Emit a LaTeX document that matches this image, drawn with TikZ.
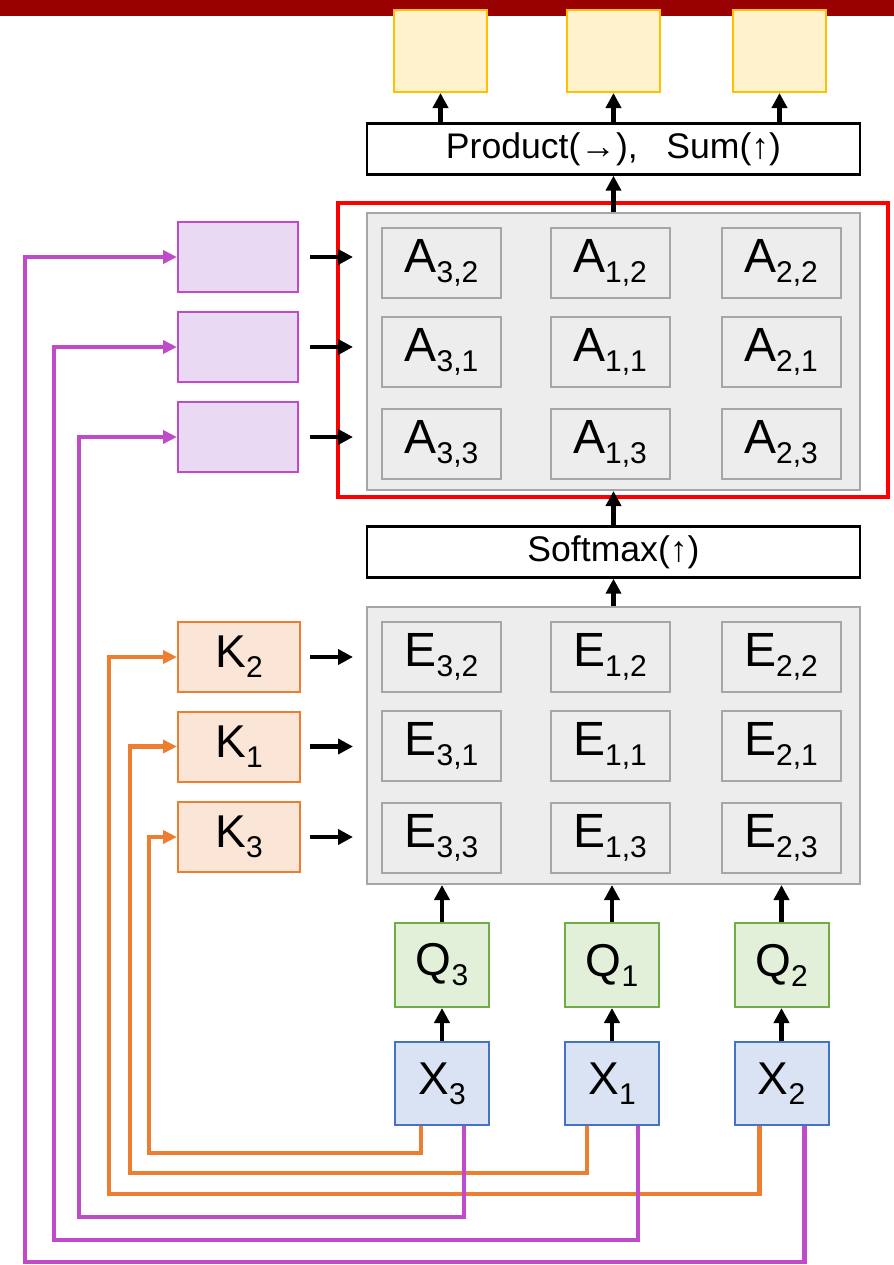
\documentclass[tikz,border=0pt]{standalone}
\usepackage{fontspec}
\setmainfont{Liberation Sans}
\usetikzlibrary{arrows.meta,positioning}
\definecolor{barred}{HTML}{990000}
\definecolor{outline}{HTML}{FFC000}
\definecolor{outfill}{HTML}{FFF2CC}
\definecolor{gridline}{HTML}{A6A6A6}
\definecolor{gridfill}{HTML}{EDEDED}
\definecolor{valline}{HTML}{BF4BC8}
\definecolor{valfill}{HTML}{EAD9F2}
\definecolor{keyline}{HTML}{ED7D31}
\definecolor{keyfill}{HTML}{FBE5D6}
\definecolor{qline}{HTML}{70AD47}
\definecolor{qfill}{HTML}{E2F0D9}
\definecolor{xline}{HTML}{4472C4}
\definecolor{xfill}{HTML}{DAE3F3}
\newcommand{\lowsub}[1]{\raisebox{-5pt}{\fontsize{15}{15}\selectfont #1}}
\tikzset{
  outbox/.style={draw=outline, fill=outfill, line width=1pt, minimum width=46.5pt, minimum height=41pt, inner sep=0pt},
  opbar/.style={draw=black, fill=white, line width=1.2pt, minimum width=246.5pt, minimum height=25.5pt, inner sep=0pt, font=\fontsize{17.8}{20}\selectfont},
  panel/.style={draw=gridline, fill=gridfill, line width=1pt, minimum width=246.5pt, minimum height=138.5pt, inner sep=0pt},
  redframe/.style={draw=red, line width=2pt, minimum width=275pt, minimum height=147pt, inner sep=0pt},
  acell/.style={draw=gridline, fill=gridfill, line width=1pt, minimum width=59.5pt, minimum height=35pt, inner sep=0pt, font=\fontsize{24}{24}\selectfont},
  valbox/.style={draw=valline, fill=valfill, line width=1pt, minimum width=60pt, minimum height=35pt, inner sep=0pt},
  keybox/.style={draw=keyline, fill=keyfill, line width=1pt, minimum width=61pt, minimum height=35pt, inner sep=0pt, font=\fontsize{23}{23}\selectfont},
  qbox/.style={draw=qline, fill=qfill, line width=1pt, minimum width=47pt, minimum height=42pt, inner sep=0pt, font=\fontsize{23}{23}\selectfont},
  xbox/.style={draw=xline, fill=xfill, line width=1pt, minimum width=47pt, minimum height=41.5pt, inner sep=0pt, font=\fontsize{23}{23}\selectfont},
  signal/.style={-{Triangle[length=7.5pt, width=7.5pt]}, line width=2.3pt, draw=black},
  kwire/.style={-{Triangle[length=7pt, width=6.5pt]}, line width=2.2pt, draw=keyline},
  vwire/.style={-{Triangle[length=7pt, width=6.5pt]}, line width=2.2pt, draw=valline}
}

\begin{document}
\begin{tikzpicture}[x=0.5pt, y=-0.5pt]
  \useasboundingbox (0,0) rectangle (894,1265);
  \fill[barred] (0,0) rectangle (894,16);

  \node[outbox] (o3) at (440.5,51) {};
  \node[outbox] (o1) at (613.5,51) {};
  \node[outbox] (o2) at (779.5,51) {};
  \node[opbar] (prod) at (613.5,149) {Product(→),\hspace{0.8em}Sum(↑)};

  \node[panel] (agrid) at (613.5,351.5) {};
  \node[redframe] (aframe) at (613,350) {};
  \node[acell] (a32) at (441.5,263) {A\lowsub{3,2}};
  \node[acell] (a12) at (610,263) {A\lowsub{1,2}};
  \node[acell] (a22) at (781,263) {A\lowsub{2,2}};
  \node[acell] (a31) at (441.5,352) {A\lowsub{3,1}};
  \node[acell] (a11) at (610,352) {A\lowsub{1,1}};
  \node[acell] (a21) at (781,352) {A\lowsub{2,1}};
  \node[acell] (a33) at (441.5,444) {A\lowsub{3,3}};
  \node[acell] (a13) at (610,444) {A\lowsub{1,3}};
  \node[acell] (a23) at (781,444) {A\lowsub{2,3}};

  \node[valbox] (v2) at (238,257) {};
  \node[valbox] (v1) at (238,347) {};
  \node[valbox] (v3) at (238,437) {};

  \node[opbar] (soft) at (613.5,552) {Softmax(↑)};

  \node[panel] (egrid) at (613.5,745.5) {};
  \node[acell] (e32) at (441.5,657) {E\lowsub{3,2}};
  \node[acell] (e12) at (610,657) {E\lowsub{1,2}};
  \node[acell] (e22) at (781,657) {E\lowsub{2,2}};
  \node[acell] (e31) at (441.5,746) {E\lowsub{3,1}};
  \node[acell] (e11) at (610,746) {E\lowsub{1,1}};
  \node[acell] (e21) at (781,746) {E\lowsub{2,1}};
  \node[acell] (e33) at (441.5,838) {E\lowsub{3,3}};
  \node[acell] (e13) at (610,838) {E\lowsub{1,3}};
  \node[acell] (e23) at (781,838) {E\lowsub{2,3}};

  \node[keybox] (k2) at (239,657) {K\lowsub{2}};
  \node[keybox] (k1) at (239,746.5) {K\lowsub{1}};
  \node[keybox] (k3) at (239,837) {K\lowsub{3}};

  \node[qbox] (q3) at (442,965) {Q\lowsub{3}};
  \node[qbox] (q1) at (612,965) {Q\lowsub{1}};
  \node[qbox] (q2) at (781.5,965) {Q\lowsub{2}};
  \node[xbox, below=16.5pt of q3] (x3) {X\lowsub{3}};
  \node[xbox, below=16.5pt of q1] (x1) {X\lowsub{1}};
  \node[xbox, below=16.5pt of q2] (x2) {X\lowsub{2}};

  \coordinate (kl3) at (149,1153);
  \coordinate (kl1) at (130,1173);
  \coordinate (kl2) at (109,1194);
  \coordinate (vl3) at (79,1217);
  \coordinate (vl1) at (54,1240);
  \coordinate (vl2) at (25,1262);

  \draw[kwire] ([xshift=-10.5pt]x3.south) |- (kl3) |- (k3.west);
  \draw[kwire] ([xshift=-12.5pt]x1.south) |- (kl1) |- (k1.west);
  \draw[kwire] ([xshift=-11pt]x2.south) |- (kl2) |- (k2.west);
  \draw[vwire] ([xshift=11pt]x3.south) |- (vl3) |- (v3.west);
  \draw[vwire] ([xshift=13pt]x1.south) |- (vl1) |- (v1.west);
  \draw[vwire] ([xshift=11.5pt]x2.south) |- (vl2) |- (v2.west);

  \draw[signal] (x3) -- (q3);
  \draw[signal] (x1) -- (q1);
  \draw[signal] (x2) -- (q2);
  \draw[signal] (q3.north) -- (q3.north |- egrid.south);
  \draw[signal] (q1.north) -- (q1.north |- egrid.south);
  \draw[signal] (q2.north) -- (q2.north |- egrid.south);
  \draw[signal, shorten <=4.5pt, shorten >=6.5pt] (k2.east) -- (k2.east -| egrid.west);
  \draw[signal, shorten <=4.5pt, shorten >=6.5pt] (k1.east) -- (k1.east -| egrid.west);
  \draw[signal, shorten <=4.5pt, shorten >=6.5pt] (k3.east) -- (k3.east -| egrid.west);
  \draw[signal] (egrid.north) -- (soft.south);
  \draw[signal] (soft.north) -- (agrid.south);
  \draw[signal, shorten <=5.5pt, shorten >=6.5pt] (v2.east) -- (v2.east -| agrid.west);
  \draw[signal, shorten <=5.5pt, shorten >=6.5pt] (v1.east) -- (v1.east -| agrid.west);
  \draw[signal, shorten <=5.5pt, shorten >=6.5pt] (v3.east) -- (v3.east -| agrid.west);
  \draw[signal] (agrid.north) -- (prod.south);
  \draw[signal] (prod.north -| o3) -- (o3.south);
  \draw[signal] (prod.north -| o1) -- (o1.south);
  \draw[signal] (prod.north -| o2) -- (o2.south);
\end{tikzpicture}
\end{document}
